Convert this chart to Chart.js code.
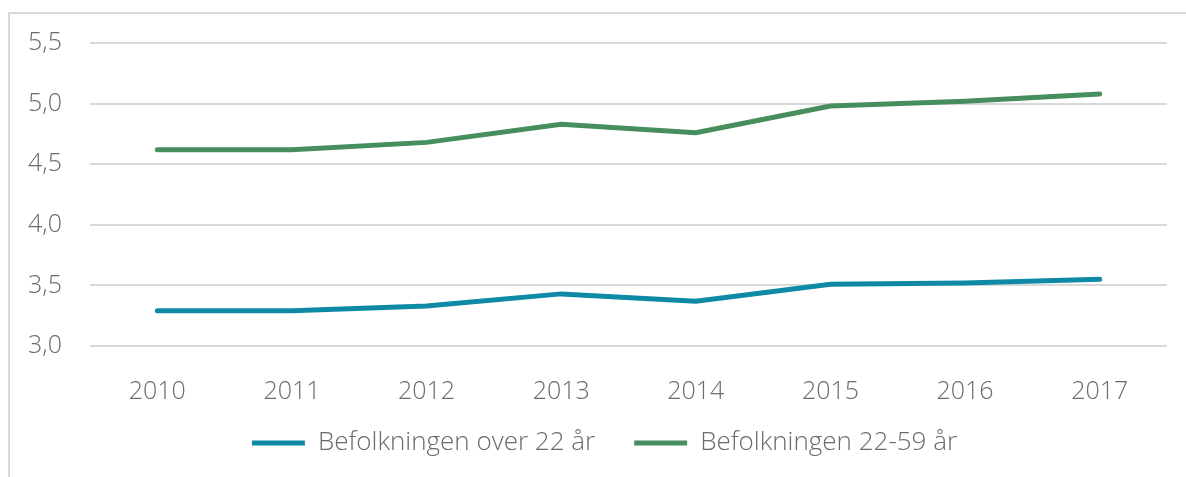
<!DOCTYPE html>
<html>
<head>
<meta charset="utf-8">
<script src="https://cdn.jsdelivr.net/npm/chart.js@4"></script>
<style>
  body { margin: 0; background: #fff; }
  .wrap { position: relative; width: 1186px; height: 477px; overflow: hidden; }
  .frame { position: absolute; left: 8px; top: 12px; width: 1200px; height: 500px;
           border-left: 2px solid #d9d9d9; border-top: 2px solid #d9d9d9; }
  canvas { position: absolute; left: 0; top: 0; }
</style>
</head>
<body>
<div class="wrap">
  <div class="frame"></div>
  <canvas id="myChart" width="1186" height="477"></canvas>
</div>
<script>
const years = ['2010', '2011', '2012', '2013', '2014', '2015', '2016', '2017'];
const over22 = [3.29, 3.29, 3.33, 3.43, 3.37, 3.51, 3.52, 3.55];
const age22to59 = [4.62, 4.62, 4.68, 4.83, 4.76, 4.98, 5.02, 5.08];
const yTickLabels = ['3,0', '3,5', '4,0', '4,5', '5,0', '5,5'];

const textColor = '#6b6b6b';
const tickFont = { family: "'Open Sans', sans-serif", size: 25, weight: 300 };
const legendFont = { family: "'Open Sans', sans-serif", size: 26, weight: 300 };

// fixed legend height, then nudge the legend box to where it sits in the reference
const legendPlace = {
  id: 'legendPlace',
  beforeInit(chart) {
    const origFit = chart.legend.fit;
    chart.legend.fit = function() {
      origFit.bind(chart.legend)();
      this.height = 75;
    };
  },
  afterLayout(chart) {
    const lg = chart.legend;
    lg.left += 21;
    lg.right += 21;
    lg.top -= 11;
    lg.bottom -= 11;
  }
};

const ctx = document.getElementById('myChart');

new Chart(ctx, {
  type: 'line',
  data: {
    labels: years,
    datasets: [{
      label: 'Befolkningen over 22 år',
      data: over22,
      borderColor: '#0f8aa6',
      backgroundColor: '#0f8aa6',
      borderWidth: 5,
      borderCapStyle: 'round',
      pointRadius: 0,
      tension: 0
    }, {
      label: 'Befolkningen 22-59 år',
      data: age22to59,
      borderColor: '#468e5e',
      backgroundColor: '#468e5e',
      borderWidth: 5,
      borderCapStyle: 'round',
      pointRadius: 0,
      tension: 0
    }]
  },
  options: {
    responsive: false,
    animation: false,
    layout: {
      padding: { left: 0, right: 19, top: 43, bottom: 0 }
    },
    scales: {
      y: {
        min: 3,
        max: 5.5,
        border: { display: false },
        grid: { color: '#d9d9d9', lineWidth: 2, drawTicks: false },
        ticks: {
          stepSize: 0.5,
          padding: 28,
          color: textColor,
          font: tickFont,
          callback: function(value, index) {
            return yTickLabels[index];
          }
        },
        afterFit: function(scale) { scale.width = 90; }
      },
      x: {
        offset: true,
        border: { display: false },
        grid: { display: false },
        ticks: {
          padding: 23,
          color: textColor,
          font: tickFont,
          maxRotation: 0
        },
        afterFit: function(scale) { scale.height = 56; }
      }
    },
    plugins: {
      legend: {
        position: 'bottom',
        labels: {
          usePointStyle: true,
          pointStyle: 'line',
          pointStyleWidth: 53,
          padding: 39,
          color: textColor,
          font: legendFont
        }
      },
      tooltip: { enabled: false }
    }
  },
  plugins: [legendPlace]
});
</script>
</body>
</html>
